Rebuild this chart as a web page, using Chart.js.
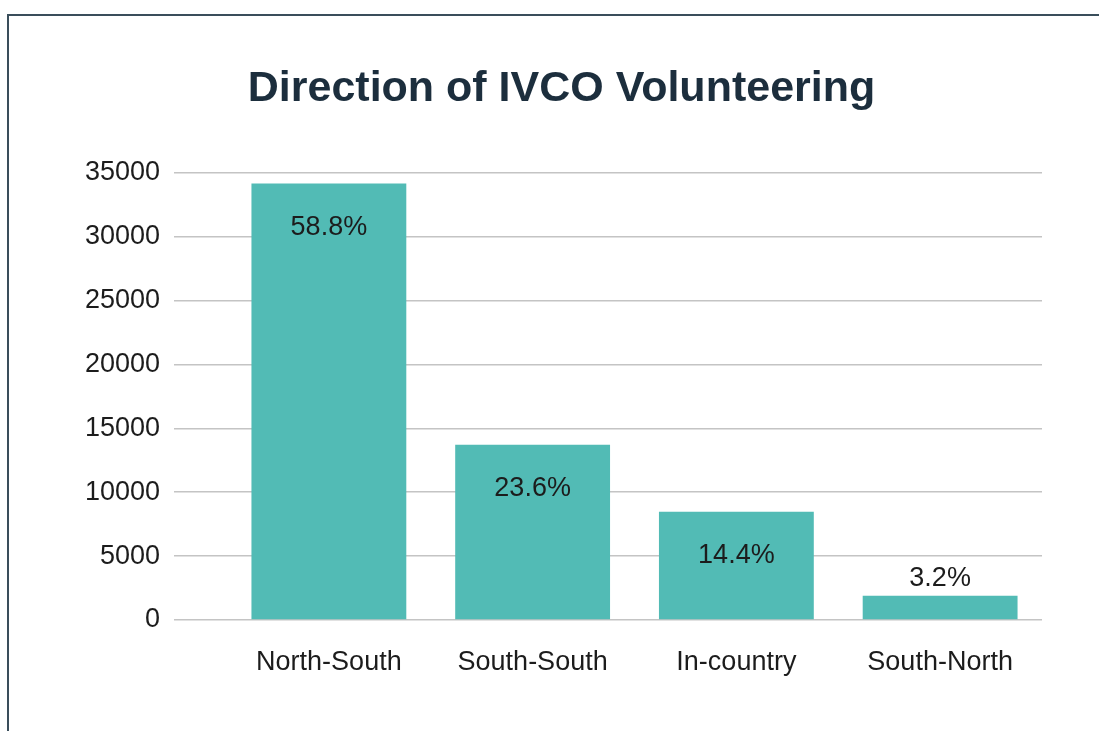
<!DOCTYPE html>
<html lang="en">
<head>
    <meta charset="UTF-8">
    <title>Direction of IVCO Volunteering</title>
    <script src="https://cdn.jsdelivr.net/npm/chart.js"></script>
    <style>
        html, body { margin: 0; padding: 0; background: #fff; overflow: hidden; }
        #frame {
            position: absolute; left: 7px; top: 14px; width: 1200px; height: 800px;
            border-left: 2px solid #3a4e5b; border-top: 2px solid #3a4e5b;
        }
        #wrap { position: absolute; left: 0; top: 0; width: 1099px; height: 731px; }
    </style>
</head>
<body>
<div id="frame"></div>
<div id="wrap"><canvas id="directionChart" width="1099" height="731"></canvas></div>

<script>
    var categories = ["North-South", "South-South", "In-country", "South-North"];
    var volunteers = [34140, 13700, 8460, 1900];
    var shareLabels = ["58.8%", "23.6%", "14.4%", "3.2%"];
    var yTicks = [0, 5000, 10000, 15000, 20000, 25000, 30000, 35000];

    var textColor = "#1c1c1c";
    var baseFont = "'Liberation Sans', Arial, Helvetica, sans-serif";

    // draws the percentage labels inside the bar top, or above it when the bar is short
    var shareLabelPlugin = {
        id: 'shareLabels',
        afterDatasetsDraw: function (chart) {
            var ctx = chart.ctx;
            var meta = chart.getDatasetMeta(0);
            ctx.save();
            ctx.font = "27px " + baseFont;
            ctx.fillStyle = textColor;
            ctx.textAlign = 'center';
            ctx.textBaseline = 'middle';
            meta.data.forEach(function (bar, i) {
                var h = bar.base - bar.y;
                var y = h > 60 ? bar.y + 44 : bar.y - 17;
                ctx.fillText(shareLabels[i], bar.x, y);
            });
            ctx.restore();
        }
    };

    document.addEventListener('DOMContentLoaded', function () {
        var ctx = document.getElementById('directionChart').getContext('2d');
        new Chart(ctx, {
            type: 'bar',
            data: {
                labels: categories,
                datasets: [{
                    data: volunteers,
                    backgroundColor: "#52bbb5",
                    borderWidth: 0,
                    categoryPercentage: 1,
                    barPercentage: 0.76
                }]
            },
            options: {
                responsive: false,
                animation: false,
                layout: { padding: { left: 81, right: 57, top: 0, bottom: 55 } },
                plugins: {
                    legend: { display: false },
                    tooltip: { enabled: false },
                    title: {
                        display: true,
                        text: "Direction of IVCO Volunteering",
                        color: "#1c2e3d",
                        font: { family: baseFont, size: 43, weight: 'bold', lineHeight: 1.2 },
                        padding: { top: 63, bottom: 58 }
                    }
                },
                scales: {
                    x: {
                        afterFit: function (scale) { scale.height = 56; },
                        grid: { display: false, drawTicks: false },
                        border: { display: false },
                        ticks: {
                            color: textColor,
                            padding: 26,
                            font: { family: baseFont, size: 27, lineHeight: 1.2 }
                        }
                    },
                    y: {
                        min: 0,
                        max: 35000,
                        afterBuildTicks: function (scale) {
                            scale.ticks = yTicks.map(function (v) { return { value: v }; });
                        },
                        afterFit: function (scale) { scale.width = 146; },
                        grid: { color: "#c4c4c4", lineWidth: 1.5, drawTicks: true, tickLength: 53 },
                        border: { display: false },
                        ticks: {
                            color: textColor,
                            padding: 14,
                            font: { family: baseFont, size: 27 },
                            callback: function (value) { return String(value); }
                        }
                    }
                }
            },
            plugins: [shareLabelPlugin]
        });
    });
</script>
</body>
</html>
